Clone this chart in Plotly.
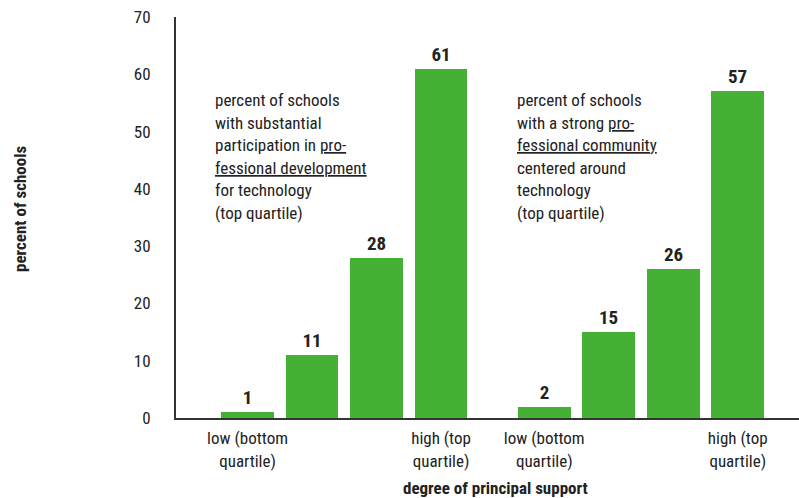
import plotly.graph_objects as go

# Data
levels = ["low (bottom<br>quartile)", "", "", "high (top<br>quartile)"]
pd_values = [1, 11, 28, 61]        # substantial participation in professional development
community_values = [2, 15, 26, 57]  # strong professional community around technology
y_ticks = [0, 10, 20, 30, 40, 50, 60, 70]

FONT = "Liberation Sans Narrow, Roboto Condensed, Arial Narrow, sans-serif"
GREEN = "#44b034"
INK = "#222222"

group_gap = 4.6  # offset of the second group along the x axis
x1 = [i for i in range(len(pd_values))]
x2 = [i + group_gap for i in range(len(community_values))]

fig = go.Figure()
for xs, vals in ((x1, pd_values), (x2, community_values)):
    fig.add_trace(go.Bar(
        x=xs, y=vals, width=0.82,
        marker=dict(color=GREEN, line=dict(width=0)),
        text=[f"<b>{v}</b>" for v in vals], textposition="outside",
        textfont=dict(family=FONT, size=19, color=INK),
        cliponaxis=False, showlegend=False,
    ))

fig.update_layout(
    width=799, height=498,
    margin=dict(l=176, r=0, t=17, b=80),
    paper_bgcolor="white", plot_bgcolor="white",
    font=dict(family=FONT, size=17, color=INK),
    bargap=0,
    xaxis=dict(
        range=[-1.109, 8.55],
        tickvals=x1 + x2, ticktext=levels + levels,
        showgrid=False, zeroline=False, showline=True,
        linecolor="#333333", linewidth=2, ticks="",
        ticklabelstandoff=4,
        tickfont=dict(family=FONT, size=17, color=INK),
    ),
    yaxis=dict(
        range=[0, 70], tickvals=y_ticks,
        showgrid=False, zeroline=False, showline=True,
        linecolor="#333333", linewidth=2, ticks="",
        ticklabelstandoff=20,
        tickfont=dict(family=FONT, size=17, color=INK),
    ),
)

# Axis titles
fig.add_annotation(text="<b>degree of principal support</b>", xref="paper", yref="paper",
                   x=(496 - 176) / 623, y=-70 / 401, xanchor="center", yanchor="middle",
                   showarrow=False, font=dict(family=FONT, size=17, color=INK))
fig.add_annotation(text="<b>percent of schools</b>", xref="paper", yref="paper",
                   x=(20 - 176) / 623, y=(418 - 208) / 401, xanchor="center", yanchor="middle",
                   textangle=-90, showarrow=False,
                   font=dict(family=FONT, size=17, color=INK))

U = "<span style='text-decoration:underline'>{}</span>"
notes = [
    (0 - 0.53, ["percent of schools", "with substantial",
                "participation in " + U.format("pro-"),
                U.format("fessional development"),
                "for technology", "(top quartile)"]),
    (group_gap - 0.45, ["percent of schools", "with a strong " + U.format("pro-"),
                        U.format("fessional community"),
                        "centered around", "technology", "(top quartile)"]),
]
line_step = 22.6 * 70 / 401
for x_left, lines in notes:
    for k, line in enumerate(lines):
        fig.add_annotation(text=line, x=x_left, y=55.5 - k * line_step,
                           xref="x", yref="y", xanchor="left", yanchor="middle",
                           showarrow=False, font=dict(family=FONT, size=17, color=INK))

fig.write_html("out.html")
